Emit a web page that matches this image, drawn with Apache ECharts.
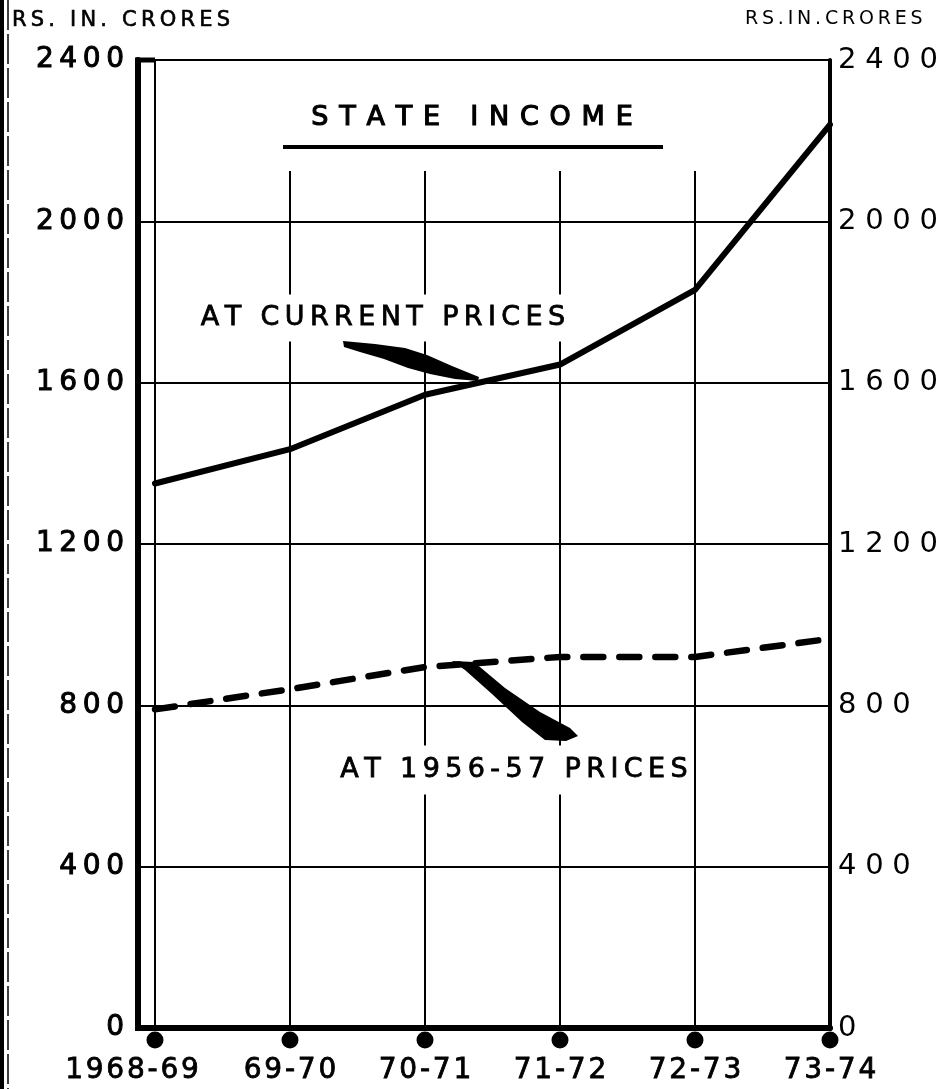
<!DOCTYPE html>
<html>
<head>
<meta charset="utf-8">
<title>State Income</title>
<script src="https://cdn.jsdelivr.net/npm/echarts@6/dist/echarts.min.js"></script>
<style>
  html, body { margin: 0; padding: 0; background: #fff; }
  #chart { width: 943px; height: 1089px; }
</style>
</head>
<body>
<div id="chart"></div>
<script>
// Financial years on the horizontal axis
const years = ['1968-69', '69-70', '70-71', '71-72', '72-73', '73-74'];
// State income, Rs. in crores
const currentPrices = [1350, 1435, 1570, 1645, 1830, 2240];
const constantPrices = [790, 840, 895, 920, 920, 965];
// Vertical scale
const yMin = 0;
const yMax = 2400;
const yStep = 400;

const FONT = '"DejaVu Sans", sans-serif';
const THIN = '\u2009';
const HAIR = '\u200A';

// Widen lettering in the drafting style by putting narrow spaces between characters
function spaced(s, sep) {
  return Array.from(s).join(sep);
}

const chart = echarts.init(document.getElementById('chart'), null, { renderer: 'canvas' });

const GRID = { left: 155, right: 113, top: 60, bottom: 61 };
const AXIS_OFFSET = 17;
const axisX = GRID.left - AXIS_OFFSET;
const bottomY = 1089 - GRID.bottom;

const option = {
  animation: false,
  backgroundColor: '#fff',
  grid: { left: GRID.left, right: GRID.right, top: GRID.top, bottom: GRID.bottom, containLabel: false },
  xAxis: [
    {
      type: 'category',
      data: years,
      boundaryGap: false,
      axisLine: { lineStyle: { color: '#000', width: 6 } },
      axisTick: { show: false },
      splitLine: { show: false },
      axisLabel: {
        interval: 0,
        color: '#000',
        fontFamily: FONT,
        fontSize: 28,
        textBorderColor: '#000',
        textBorderWidth: 0.8,
        margin: 29,
        formatter: (v, i) => i === 0 ? '{first|' + spaced(v, HAIR) + '}' : spaced(v, HAIR),
        rich: {
          first: {
            fontFamily: FONT, fontSize: 28, color: '#000',
            textBorderColor: '#000', textBorderWidth: 0.8,
            padding: [0, 46, 0, 0]
          }
        }
      }
    },
    {
      type: 'category',
      data: years,
      boundaryGap: false,
      position: 'top',
      axisLine: { lineStyle: { color: '#000', width: 5 } },
      axisTick: { show: false },
      axisLabel: { show: false },
      splitLine: { show: false }
    }
  ],
  yAxis: [
    {
      type: 'value',
      min: yMin, max: yMax, interval: yStep,
      position: 'left',
      offset: AXIS_OFFSET,
      axisLine: { show: true, lineStyle: { color: '#000', width: 6 } },
      axisTick: { show: true, inside: true, length: AXIS_OFFSET, lineStyle: { color: '#000', width: 2 } },
      axisLabel: {
        color: '#000', fontFamily: FONT, fontSize: 28, margin: 14,
        textBorderColor: '#000', textBorderWidth: 1,
        formatter: v => spaced(String(v), THIN)
      },
      splitLine: { show: true, lineStyle: { color: '#000', width: 2 } }
    },
    {
      type: 'value',
      min: yMin, max: yMax, interval: yStep,
      position: 'right',
      axisLine: { show: true, lineStyle: { color: '#000', width: 4 } },
      axisTick: { show: false },
      axisLabel: {
        color: '#000', fontFamily: FONT, fontSize: 29, margin: 8,
        formatter: v => spaced(String(v), THIN + HAIR)
      },
      splitLine: { show: false }
    },
    {
      // thin rule along the first year
      type: 'value',
      min: yMin, max: yMax, interval: yStep,
      position: 'left',
      offset: 0,
      axisLine: { show: true, lineStyle: { color: '#000', width: 2 } },
      axisTick: { show: false },
      axisLabel: { show: false },
      splitLine: { show: false }
    }
  ],
  series: [
    {
      name: 'AT CURRENT PRICES',
      type: 'line',
      data: currentPrices,
      symbol: 'none',
      z: 5,
      lineStyle: { color: '#000', width: 6, cap: 'round', join: 'round' },
      markLine: {
        silent: true,
        symbol: 'none',
        label: { show: false },
        lineStyle: { color: '#000', width: 2, type: 'solid' },
        data: years.slice(1, -1).map(y => [{ coord: [y, yMin] }, { coord: [y, 2125] }])
      }
    },
    {
      name: 'AT 1956-57 PRICES',
      type: 'line',
      data: constantPrices,
      symbol: 'none',
      z: 5,
      lineStyle: { color: '#000', width: 6.5, type: [20, 16], cap: 'round' }
    },
    {
      // year markers hanging under the base line
      type: 'scatter',
      data: years.map(() => yMin),
      symbol: 'circle',
      symbolSize: 17,
      symbolOffset: [0, 12],
      clip: false,
      silent: true,
      z: 10,
      itemStyle: { color: '#000', opacity: 1 }
    }
  ],
  graphic: [
    // frame pieces between the heavy left rule and the first year
    { type: 'line', shape: { x1: axisX - 3, y1: GRID.top, x2: GRID.left, y2: GRID.top }, style: { stroke: '#000', lineWidth: 5 }, z: 10 },
    { type: 'line', shape: { x1: axisX - 3, y1: bottomY, x2: GRID.left, y2: bottomY }, style: { stroke: '#000', lineWidth: 6 }, z: 10 },
    // sheet edge on the left
    { type: 'rect', shape: { x: 0, y: 0, width: 4, height: 1089 }, style: { fill: '#000' } },
    { type: 'line', shape: { x1: 8, y1: 0, x2: 8, y2: 1089 }, style: { stroke: '#000', lineWidth: 1.5, lineDash: [30, 4] } },
    // unit captions
    {
      type: 'text', x: 12, y: 21, z: 20,
      style: {
        text: spaced('RS. IN. CRORES', THIN), font: '21px ' + FONT, fill: '#000',
        stroke: '#000', lineWidth: 0.6, align: 'left', verticalAlign: 'middle'
      }
    },
    {
      type: 'text', x: 745, y: 19, z: 20,
      style: {
        text: spaced('RS.IN.CRORES', THIN), font: '19px ' + FONT, fill: '#000',
        align: 'left', verticalAlign: 'middle'
      }
    },
    // title with underline
    {
      type: 'text', x: 472, y: 118, z: 20,
      style: {
        text: spaced('STATE INCOME', THIN + THIN), font: '27px ' + FONT, fill: '#000',
        stroke: '#000', lineWidth: 1.2, align: 'center', verticalAlign: 'middle'
      }
    },
    { type: 'line', shape: { x1: 283, y1: 147, x2: 663, y2: 147 }, style: { stroke: '#000', lineWidth: 4 }, z: 20 },
    // series captions
    {
      type: 'text', x: 383, y: 318, z: 20,
      style: {
        text: spaced('AT CURRENT PRICES', THIN), font: '27px ' + FONT, fill: '#000',
        stroke: '#000', lineWidth: 0.8,
        align: 'center', verticalAlign: 'middle', backgroundColor: '#fff', padding: [10, 6, 10, 6]
      }
    },
    {
      type: 'text', x: 514, y: 770, z: 20,
      style: {
        text: spaced('AT 1956-57 PRICES', THIN), font: '27px ' + FONT, fill: '#000',
        stroke: '#000', lineWidth: 0.8,
        align: 'center', verticalAlign: 'middle', backgroundColor: '#fff', padding: [13, 6, 9, 6]
      }
    },
    // pointers
    {
      type: 'polygon', z: 21,
      shape: { points: [[343, 341], [375, 344], [405, 348], [427, 355], [452, 366], [479, 377], [478, 381], [455, 379], [430, 374], [408, 368], [384, 359], [360, 352], [344, 347]] },
      style: { fill: '#000' }
    },
    {
      type: 'polygon', z: 21,
      shape: { points: [[452, 661], [474, 662], [505, 688], [540, 712], [570, 728], [578, 736], [566, 741], [545, 740], [522, 722], [492, 694], [465, 670]] },
      style: { fill: '#000' }
    }
  ]
};

chart.setOption(option);
</script>
</body>
</html>
